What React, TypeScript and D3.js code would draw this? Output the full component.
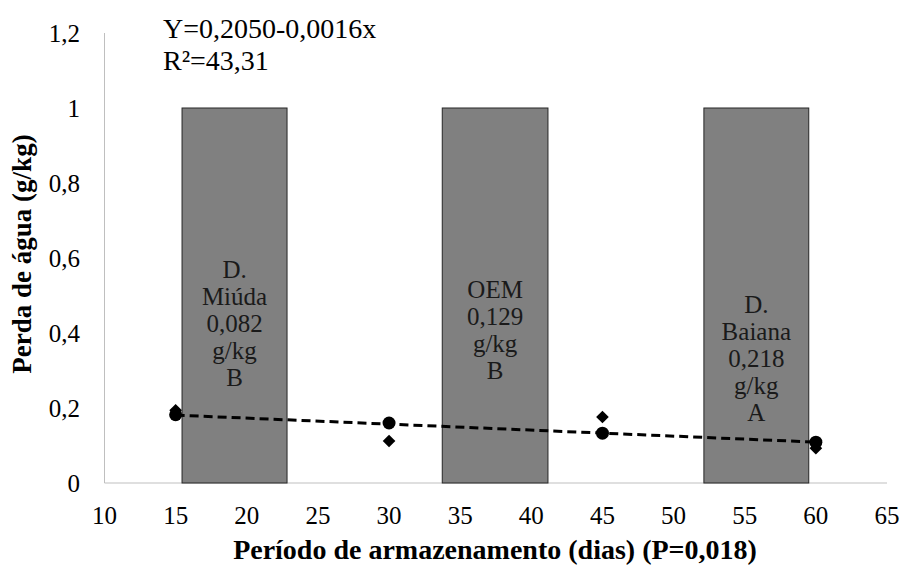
import React from "react";
import * as d3 from "d3";

const W = 902;
const H = 566;

// storage days and the two measured series
const days = [15, 30, 45, 60];
const circleVals = [0.182, 0.16, 0.133, 0.109];
const diamondVals = [0.194, 0.112, 0.176, 0.093];

// regression Y = a + b x
const regA = 0.205;
const regB = -0.0016;

// gray columns (x span in axis units, height)
const barStart = [15.45, 33.74, 52.13];
const barEnd = [22.83, 41.17, 59.5];
const barHeight = [1, 1, 1];
const barLabels = [
  ["D.", "Miúda", "0,082", "g/kg", "B"],
  ["OEM", "0,129", "g/kg", "B"],
  ["D.", "Baiana", "0,218", "g/kg", "A"],
];
const barLabelTop = [270, 290, 305];

const xTicks = [10, 15, 20, 25, 30, 35, 40, 45, 50, 55, 60, 65];
const yTicks = [0, 0.2, 0.4, 0.6, 0.8, 1, 1.2];

const FONT = "Liberation Serif, DejaVu Serif, serif";

const fmt = (v: number) => String(+v.toFixed(1)).replace(".", ",");

export default function App() {
  const x = d3.scaleLinear().domain([10, 65]).range([104.5, 887]);
  const y = d3.scaleLinear().domain([0, 1.2]).range([483, 33]);

  const trend = d3
    .line<number>()
    .x((d) => x(d))
    .y((d) => y(regA + regB * d));

  // diamond = square turned 45deg
  const diamond = d3.symbol(d3.symbolSquare, 80)();

  return (
    <svg width={W} height={H} style={{ position: "absolute", left: 0, top: 0, background: "#fff", fontFamily: FONT }}>
      {/* axes */}
      <line x1={x(10)} x2={x(10)} y1={y(1.2)} y2={y(0)} stroke="#bfbfbf" strokeWidth={1} />
      <line x1={x(10)} x2={x(65)} y1={y(0)} y2={y(0)} stroke="#bfbfbf" strokeWidth={1} />

      {/* columns */}
      {barStart.map((s, i) => (
        <rect
          key={i}
          x={x(s)}
          y={y(barHeight[i])}
          width={x(barEnd[i]) - x(s)}
          height={y(0) - y(barHeight[i])}
          fill="#808080"
          stroke="#262626"
          strokeWidth={1}
        />
      ))}
      {barLabels.map((lines, i) => (
        <text key={i} fontSize={25} fill="#1a1a1a" textAnchor="middle">
          {lines.map((t, j) => (
            <tspan key={j} x={(x(barStart[i]) + x(barEnd[i])) / 2} y={barLabelTop[i] + 8 + j * 27}>
              {t}
            </tspan>
          ))}
        </text>
      ))}

      {/* regression */}
      <path d={trend([days[0], days[days.length - 1]]) ?? ""} fill="none" stroke="#000" strokeWidth={3} strokeDasharray="9,5" />

      {/* points */}
      {days.map((d, i) => (
        <circle key={"c" + i} cx={x(d)} cy={y(circleVals[i])} r={6.5} fill="#000" />
      ))}
      {days.map((d, i) => (
        <path key={"d" + i} d={diamond ?? ""} transform={`translate(${x(d)},${y(diamondVals[i])}) rotate(45)`} fill="#000" />
      ))}

      {/* tick labels */}
      {yTicks.map((t) => (
        <text key={t} x={80} y={y(t)} dy="0.35em" textAnchor="end" fontSize={25} fill="#000">
          {fmt(t)}
        </text>
      ))}
      {xTicks.map((t) => (
        <text key={t} x={x(t)} y={524} textAnchor="middle" fontSize={25} fill="#000">
          {t}
        </text>
      ))}

      {/* titles */}
      <text x={495} y={559} textAnchor="middle" fontSize={28} fontWeight="bold" fill="#000">
        Período de armazenamento (dias) (P=0,018)
      </text>
      <text transform="translate(31,254) rotate(-90)" textAnchor="middle" fontSize={27} fontWeight="bold" fill="#000">
        Perda de água (g/kg)
      </text>

      {/* equation */}
      <text x={163} y={38} fontSize={28} fill="#000">Y=0,2050-0,0016x</text>
      <text x={163} y={70} fontSize={28} fill="#000">R²=43,31</text>
    </svg>
  );
}
